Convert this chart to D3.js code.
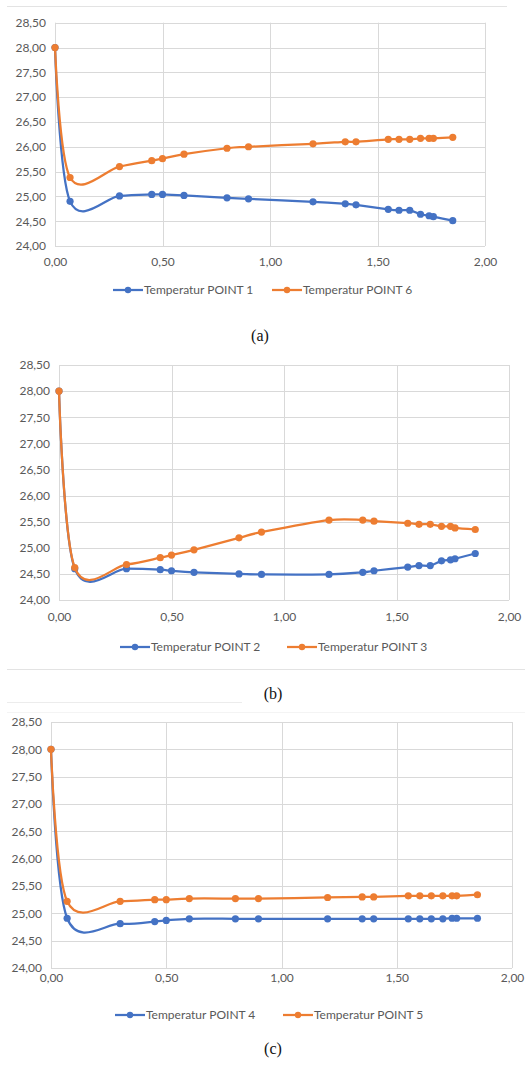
<!DOCTYPE html>
<html>
<head>
<meta charset="utf-8">
<script src="https://cdn.jsdelivr.net/npm/d3@7"></script>
<style>
  html, body { margin: 0; padding: 0; background: #ffffff; }
  svg { display: block; }
</style>
</head>
<body>
<svg id="chart" width="525" height="1070"></svg>
<script>
// ---- Data ----
const xValues = [0, 0.07, 0.30, 0.45, 0.50, 0.60, 0.80, 0.90, 1.20, 1.35, 1.40, 1.55, 1.60, 1.65, 1.70, 1.74, 1.76, 1.85];

const point1 = [28.00, 24.90, 25.01, 25.04, 25.04, 25.02, 24.97, 24.95, 24.89, 24.85, 24.83, 24.74, 24.72, 24.72, 24.64, 24.61, 24.59, 24.51];
const point6 = [28.00, 25.38, 25.60, 25.72, 25.76, 25.85, 25.97, 26.00, 26.06, 26.10, 26.10, 26.15, 26.15, 26.15, 26.17, 26.17, 26.17, 26.19];

const point2 = [28.00, 24.60, 24.60, 24.58, 24.56, 24.53, 24.50, 24.49, 24.49, 24.53, 24.56, 24.63, 24.66, 24.66, 24.75, 24.77, 24.79, 24.89];
const point3 = [28.00, 24.62, 24.68, 24.81, 24.86, 24.96, 25.19, 25.30, 25.53, 25.53, 25.51, 25.47, 25.45, 25.45, 25.41, 25.41, 25.38, 25.35];

const point4 = [28.00, 24.91, 24.81, 24.85, 24.87, 24.90, 24.90, 24.90, 24.90, 24.90, 24.90, 24.90, 24.90, 24.90, 24.90, 24.91, 24.91, 24.91];
const point5 = [28.00, 25.22, 25.22, 25.25, 25.25, 25.27, 25.27, 25.27, 25.29, 25.30, 25.30, 25.32, 25.32, 25.32, 25.32, 25.32, 25.32, 25.34];

const yTicks = [24.0, 24.5, 25.0, 25.5, 26.0, 26.5, 27.0, 27.5, 28.0, 28.5];
const xTicks = [0, 0.5, 1.0, 1.5, 2.0];

const panelLabels = ["(a)", "(b)", "(c)"];
const seriesNames = [
  ["Temperatur POINT 1", "Temperatur POINT 6"],
  ["Temperatur POINT 2", "Temperatur POINT 3"],
  ["Temperatur POINT 4", "Temperatur POINT 5"]
];
const seriesData = [
  [point1, point6],
  [point2, point3],
  [point4, point5]
];
const seriesColors = ["#4472C4", "#ED7D31"];

// ---- Layout ----
const panels = [
  { left: 55, right: 485, top: 22.7, bottom: 246, xLabelY: 262, legendY: 290, legendX: [113, 272], labelY: 335 },
  { left: 59, right: 509, top: 365, bottom: 600, xLabelY: 617, legendY: 647, legendX: [120, 287], labelY: 693 },
  { left: 51, right: 512, top: 722, bottom: 968, xLabelY: 978, legendY: 1015, legendX: [115, 283], labelY: 1048 }
];

const locale = d3.formatLocale({ decimal: ",", thousands: ".", grouping: [3], currency: ["", ""] });
const fmt = locale.format(".2f");

const svg = d3.select("#chart");
const tickFont = "Lato, 'Open Sans', sans-serif";
const textColor = "#595959";
const gridColor = "#d9d9d9";

// chart frame fragments
const frames = svg.append("g").attr("stroke-width", 1).attr("fill", "none");
frames.append("line").attr("x1", 7).attr("x2", 507).attr("y1", 6.5).attr("y2", 6.5).attr("stroke", "#e3e3e3");
frames.append("line").attr("x1", 7).attr("x2", 525).attr("y1", 669.5).attr("y2", 669.5).attr("stroke", "#e3e3e3");
frames.append("line").attr("x1", 7).attr("x2", 242).attr("y1", 702.5).attr("y2", 702.5).attr("stroke", "#ececec");
frames.append("line").attr("x1", 7).attr("x2", 525).attr("y1", 712.5).attr("y2", 712.5).attr("stroke", "#f4f4f4");

panels.forEach((p, i) => {
  const g = svg.append("g");
  const x = d3.scaleLinear().domain([0, 2]).range([p.left, p.right]);
  const y = d3.scaleLinear().domain([24, 28.5]).range([p.bottom, p.top]);

  // grid
  g.append("g").selectAll("line.h").data(yTicks).join("line")
    .attr("x1", p.left).attr("x2", p.right)
    .attr("y1", d => Math.round(y(d)) + 0.5).attr("y2", d => Math.round(y(d)) + 0.5)
    .attr("stroke", gridColor).attr("stroke-width", 1);
  g.append("g").selectAll("line.v").data(xTicks).join("line")
    .attr("y1", p.top).attr("y2", p.bottom)
    .attr("x1", d => Math.round(x(d)) + 0.5).attr("x2", d => Math.round(x(d)) + 0.5)
    .attr("stroke", gridColor).attr("stroke-width", 1);

  // axes labels via d3 axes
  const yAxis = d3.axisLeft(y).tickValues(yTicks).tickFormat(fmt).tickSize(0).tickPadding(9);
  const ya = g.append("g").attr("transform", `translate(${p.left},0)`).call(yAxis);
  const xAxis = d3.axisBottom(x).tickValues(xTicks).tickFormat(fmt).tickSize(0).tickPadding(0);
  const xa = g.append("g").attr("transform", `translate(0,${p.xLabelY - 5})`).call(xAxis);
  [ya, xa].forEach(a => {
    a.select(".domain").remove();
    a.selectAll("text").attr("fill", textColor).attr("font-family", tickFont).attr("font-size", "12px");
  });

  // series
  const line = d3.line().x((d, j) => x(xValues[j])).y(d => y(d)).curve(d3.curveCardinal.tension(0));
  seriesData[i].forEach((vals, s) => {
    const sg = g.append("g");
    sg.append("path").datum(vals).attr("d", line)
      .attr("fill", "none").attr("stroke", seriesColors[s]).attr("stroke-width", 2.25)
      .attr("stroke-linejoin", "round").attr("stroke-linecap", "round");
    sg.selectAll("circle").data(vals).join("circle")
      .attr("cx", (d, j) => x(xValues[j])).attr("cy", d => y(d)).attr("r", 3.6)
      .attr("fill", seriesColors[s]);
  });

  // legend
  seriesNames[i].forEach((name, s) => {
    const lx = p.legendX[s];
    const lg = g.append("g").attr("transform", `translate(${lx},${p.legendY})`);
    lg.append("line").attr("x1", 0).attr("x2", 30).attr("y1", 0).attr("y2", 0)
      .attr("stroke", seriesColors[s]).attr("stroke-width", 2.25);
    lg.append("circle").attr("cx", 15).attr("cy", 0).attr("r", 3.2).attr("fill", seriesColors[s]);
    lg.append("text").attr("x", 31).attr("y", 0).attr("dy", "0.35em")
      .attr("fill", textColor).attr("font-family", tickFont).attr("font-size", "12px").text(name);
  });

  // panel label
  svg.append("text").attr("x", i === 0 ? 260 : 273).attr("y", p.labelY).attr("dy", "0.35em")
    .attr("text-anchor", "middle").attr("font-family", "'Liberation Serif', 'Times New Roman', serif")
    .attr("font-size", "16px").attr("fill", "#111").text(panelLabels[i]);
});
</script>
</body>
</html>
